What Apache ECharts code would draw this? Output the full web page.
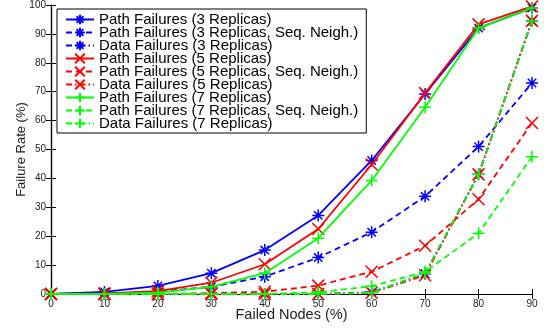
<!DOCTYPE html>
<html>
<head>
<meta charset="utf-8">
<script src="https://cdn.jsdelivr.net/npm/echarts@6/dist/echarts.min.js"></script>
<style>
  html, body { margin: 0; padding: 0; background: #fff; }
  #chart { width: 544px; height: 328px; }
</style>
</head>
<body>
<div id="chart"></div>
<script>
// failed nodes (%) on x
var failedNodes = [0, 10, 20, 30, 40, 50, 60, 70, 80, 90]

// failure rate (%) per series
var path3 = [0, 0.7, 2.8, 7.2, 15.2, 27.2, 46.2, 69.2, 92, 99]
var path3Seq = [0, 0, 0.8, 2.5, 6, 12.6, 21.4, 33.8, 51, 73]
var data3 = [0, 0, 0, 0, 0, 0, 0.6, 7, 41.4, 94.5]
var path5 = [0, 0.2, 1, 3.9, 10.3, 22.5, 44.8, 69.5, 93.3, 99.5]
var path5Seq = [0, 0, 0, 0.3, 0.8, 2.9, 7.7, 16.7, 32.8, 59.2]
var data5 = [0, 0, 0, 0, 0, 0, 0.4, 6.5, 41.4, 94.5]
var path7 = [0, 0, 0.5, 2.5, 7.2, 19.3, 39.3, 64.6, 92, 99]
var path7Seq = [0, 0, 0, 0, 0, 0.6, 2.7, 7.7, 21, 47.5]
var data7 = [0, 0, 0, 0, 0, 0, 0.4, 7.2, 41.4, 94.5]

var names = [
  'Path Failures (3 Replicas)',
  'Path Failures (3 Replicas, Seq. Neigh.)',
  'Data Failures (3 Replicas)',
  'Path Failures (5 Replicas)',
  'Path Failures (5 Replicas, Seq. Neigh.)',
  'Data Failures (5 Replicas)',
  'Path Failures (7 Replicas)',
  'Path Failures (7 Replicas, Seq. Neigh.)',
  'Data Failures (7 Replicas)'
]
var values = [path3, path3Seq, data3, path5, path5Seq, data5, path7, path7Seq, data7]

var STAR = 'path://M0,5L10,5M5,0L5,10M1.5,1.5L8.5,8.5M1.5,8.5L8.5,1.5'
var CROSS = 'path://M0,0L10,10M0,10L10,0'
var PLUS = 'path://M0,5L10,5M5,0L5,10'

var colors = ['#0000ff', '#ff0000', '#00ff00']
var marks = [STAR, CROSS, PLUS]
var dashes = ['solid', [6, 4], [6, 3, 1.5, 3]]

var font = '"Liberation Sans", Arial, Helvetica, sans-serif'

function makeSeries() {
  var out = []
  for (var i = 0; i < values.length; i++) {
    var g = Math.floor(i / 3)
    var k = i % 3
    out.push({
      name: names[i],
      type: 'line',
      clip: false,
      data: failedNodes.map(function (x, j) { return [x, values[i][j]] }),
      symbol: marks[g],
      symbolSize: 12,
      showAllSymbol: true,
      itemStyle: { color: colors[g], borderColor: colors[g], borderWidth: 1.5 },
      lineStyle: { color: colors[g], width: 1.8, type: dashes[k] },
      emphasis: { disabled: true },
      z: 2 + i
    })
  }
  return out
}

var chart = echarts.init(document.getElementById('chart'))
chart.setOption({
  animation: false,
  backgroundColor: '#fff',
  grid: { left: 51, right: 12, top: 5, bottom: 34, outerBoundsMode: 'none' },
  legend: {
    left: 57,
    top: 9,
    orient: 'vertical',
    itemWidth: 28,
    itemHeight: 12,
    itemGap: -2,
    padding: [3, 8, 2, 8],
    backgroundColor: '#fff',
    borderColor: '#000',
    borderWidth: 1,
    textStyle: { fontFamily: font, fontSize: 15, color: '#000' },
    data: names
  },
  xAxis: [{
    type: 'value',
    min: 0, max: 90, interval: 10,
    name: 'Failed Nodes (%)',
    nameLocation: 'middle',
    nameGap: 13,
    nameMoveOverlap: false,
    nameTextStyle: { fontFamily: font, fontSize: 14.5, color: '#222' },
    axisLine: { lineStyle: { color: '#000', width: 1.2 } },
    axisTick: { inside: true, length: 5, lineStyle: { color: '#000' } },
    axisLabel: { fontFamily: font, fontSize: 10, color: '#222', margin: 5 },
    splitLine: { show: false }
  }, {
    type: 'value', position: 'top',
    min: 0, max: 90, interval: 10,
    axisLine: { show: true, lineStyle: { color: '#000', width: 1.2 } },
    axisTick: { inside: true, length: 5, lineStyle: { color: '#000' } },
    axisLabel: { show: false },
    splitLine: { show: false }
  }],
  yAxis: [{
    type: 'value',
    min: 0, max: 100, interval: 10,
    name: 'Failure Rate (%)',
    nameLocation: 'middle',
    nameGap: 23,
    nameMoveOverlap: false,
    nameTextStyle: { fontFamily: font, fontSize: 13, color: '#222' },
    axisLine: { show: true, lineStyle: { color: '#000', width: 1.2 } },
    axisTick: { show: true, inside: true, length: 5, lineStyle: { color: '#000' } },
    axisLabel: { fontFamily: font, fontSize: 10, color: '#222', margin: 5 },
    splitLine: { show: false }
  }, {
    type: 'value', position: 'right',
    min: 0, max: 100, interval: 10,
    axisLine: { show: true, lineStyle: { color: '#000', width: 1.2 } },
    axisTick: { show: true, inside: true, length: 5, lineStyle: { color: '#000' } },
    axisLabel: { show: false },
    splitLine: { show: false }
  }],
  series: makeSeries()
})
</script>
</body>
</html>
